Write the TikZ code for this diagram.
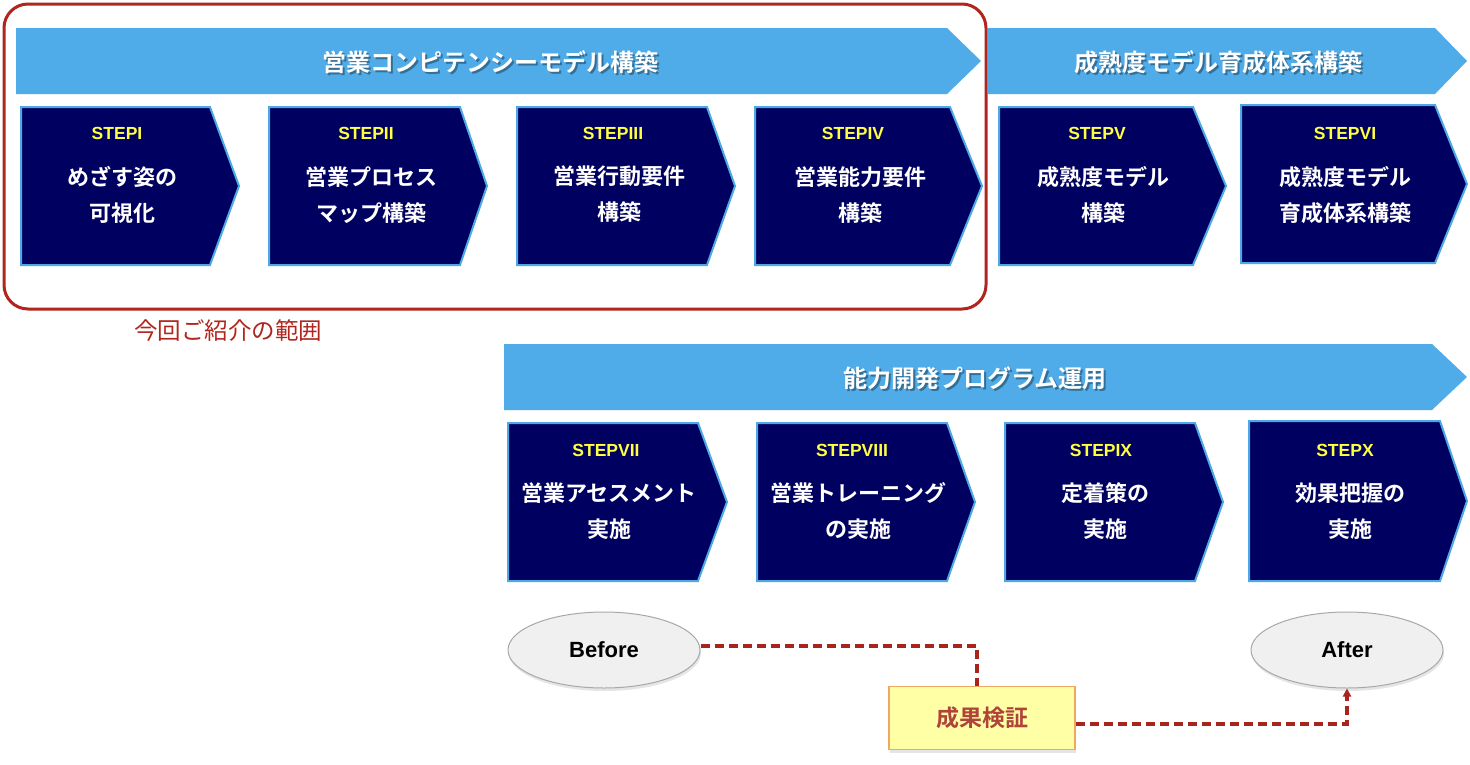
\documentclass[tikz,border=0pt]{standalone}
\usepackage{fontspec}
\setmainfont{Liberation Sans}
\newfontfamily\jp{Noto Sans CJK JP}[BoldFont={Noto Sans CJK JP Bold}]
\usetikzlibrary{shapes.geometric,arrows.meta,shadows}
\definecolor{banner}{HTML}{4FACE8}
\definecolor{navy}{HTML}{000060}
\definecolor{stepborder}{HTML}{4FA8E6}
\definecolor{stepyel}{HTML}{FFFF40}
\definecolor{redframe}{HTML}{B0261E}
\definecolor{dashred}{HTML}{A8241C}
\definecolor{notefill}{HTML}{FFFFA6}
\definecolor{noteborder}{HTML}{F0A860}
\definecolor{notetext}{HTML}{B0443A}
\definecolor{ellfill}{HTML}{F0F0F0}
\definecolor{ellborder}{HTML}{A8A8A8}
\newcommand\chev[5]{\draw[stepshape] (#1,#2) -- (#3,#2) -- (#4,{(#2+#5)/2}) -- (#3,#5) -- (#1,#5) -- cycle;}
\tikzset{
  stepshape/.style={fill=navy, draw=stepborder, line width=2pt, line join=miter},
  bannershape/.style={fill=banner},
  steplbl/.style={text=stepyel, font=\bfseries\fontsize{17.5}{20}\selectfont, inner sep=0pt},
  steptxt/.style={text=white, align=center, font=\jp\bfseries\fontsize{22}{36}\selectfont, inner sep=0pt},
  bantxt/.style={text=white, font=\jp\bfseries\fontsize{24}{28}\selectfont, inner sep=0pt},
  banshadow/.style={text=black, opacity=0.35, font=\jp\bfseries\fontsize{24}{28}\selectfont, inner sep=0pt},
  ell/.style={ellipse, fill=ellfill, draw=ellborder, line width=1pt, minimum width=192pt, minimum height=76pt,
     font=\bfseries\fontsize{22}{26}\selectfont, drop shadow={shadow xshift=1pt, shadow yshift=-3pt, opacity=0.2}},
  note/.style={rectangle, fill=notefill, draw=noteborder, line width=1.5pt, minimum width=186pt, minimum height=63pt,
     text=notetext, font=\jp\bfseries\fontsize{23}{26}\selectfont, drop shadow={shadow xshift=1pt, shadow yshift=-3pt, opacity=0.2}},
  dashline/.style={draw=dashred, line width=3.5pt, dash pattern=on 9pt off 5pt},
}
\begin{document}
\begin{tikzpicture}[x=1pt,y=-1pt]
\useasboundingbox (0,0) rectangle (1470,764);
\fill[white] (0,0) rectangle (1470,764);
% banners
\fill[bannershape] (16,28) -- (947,28) -- (981,61) -- (947,94) -- (16,94) -- cycle;
\fill[bannershape] (988,28) -- (1435,28) -- (1467,61) -- (1435,94) -- (988,94) -- cycle;
\fill[bannershape] (504,344) -- (1432,344) -- (1467,377) -- (1432,410) -- (504,410) -- cycle;
\node[banshadow] (b1s) at (492,64) {営業コンピテンシーモデル構築};
\node[bantxt] (b1) at (490,62) {営業コンピテンシーモデル構築};
\node[banshadow] (b2s) at (1220,64) {成熟度モデル育成体系構築};
\node[bantxt] (b2) at (1218,62) {成熟度モデル育成体系構築};
\node[banshadow] (b3s) at (977,380) {能力開発プログラム運用};
\node[bantxt] (b3) at (975,378) {能力開発プログラム運用};
% row 1
\chev{21}{107}{210}{239}{265}
\chev{269}{107}{460}{487}{265}
\chev{517}{107}{707}{735}{265}
\chev{755}{107}{950}{982}{265}
\chev{999}{107}{1193}{1226}{265}
\chev{1241}{105}{1435}{1467}{263}
\node[steplbl] (l1) at (117,133) {STEPI};
\node[steplbl] (l2) at (366,133) {STEPII};
\node[steplbl] (l3) at (613,133) {STEPIII};
\node[steplbl] (l4) at (853,133) {STEPIV};
\node[steplbl] (l5) at (1097,133) {STEPV};
\node[steplbl] (l6) at (1345,133) {STEPVI};
\node[steptxt] (t1) at (122,195) {めざす姿の\\可視化};
\node[steptxt] (t2) at (371,195) {営業プロセス\\マップ構築};
\node[steptxt] (t3) at (619,194) {営業行動要件\\構築};
\node[steptxt] (t4) at (860,195) {営業能力要件\\構築};
\node[steptxt] (t5) at (1103,195) {成熟度モデル\\構築};
\node[steptxt] (t6) at (1345,195) {成熟度モデル\\育成体系構築};
% row 2
\chev{508}{423}{698}{727}{581}
\chev{757}{423}{947}{975}{581}
\chev{1005}{423}{1195}{1223}{581}
\chev{1249}{421}{1440}{1467}{581}
\node[steplbl] (l7) at (606,450) {STEPVII};
\node[steplbl] (l8) at (852,450) {STEPVIII};
\node[steplbl] (l9) at (1101,450) {STEPIX};
\node[steplbl] (l10) at (1345,450) {STEPX};
\node[steptxt] (t7) at (609,511) {営業アセスメント\\実施};
\node[steptxt] (t8) at (858,511) {営業トレーニング\\の実施};
\node[steptxt] (t9) at (1105,511) {定着策の\\実施};
\node[steptxt] (t10) at (1350,511) {効果把握の\\実施};
% scope frame
\draw[redframe, line width=3pt, rounded corners=24pt] (4,4) rectangle (986,309);
\node[text=redframe, font=\jp\fontsize{23.5}{26}\selectfont, inner sep=0pt] (scope) at (228,331) {今回ご紹介の範囲};
% before / after
\node[ell] (bef) at (604,650) {Before};
\node[ell] (aft) at (1347,650) {After};
\node[note] (kensho) at (982,718) {成果検証};
\draw[dashline] ([yshift=4pt]bef.east) -| ([xshift=-5pt]kensho.north);
\draw[dashline, -{Triangle[length=8pt,width=8pt]}] ([yshift=-6pt]kensho.east) -| (aft.south);
\end{tikzpicture}
\end{document}
